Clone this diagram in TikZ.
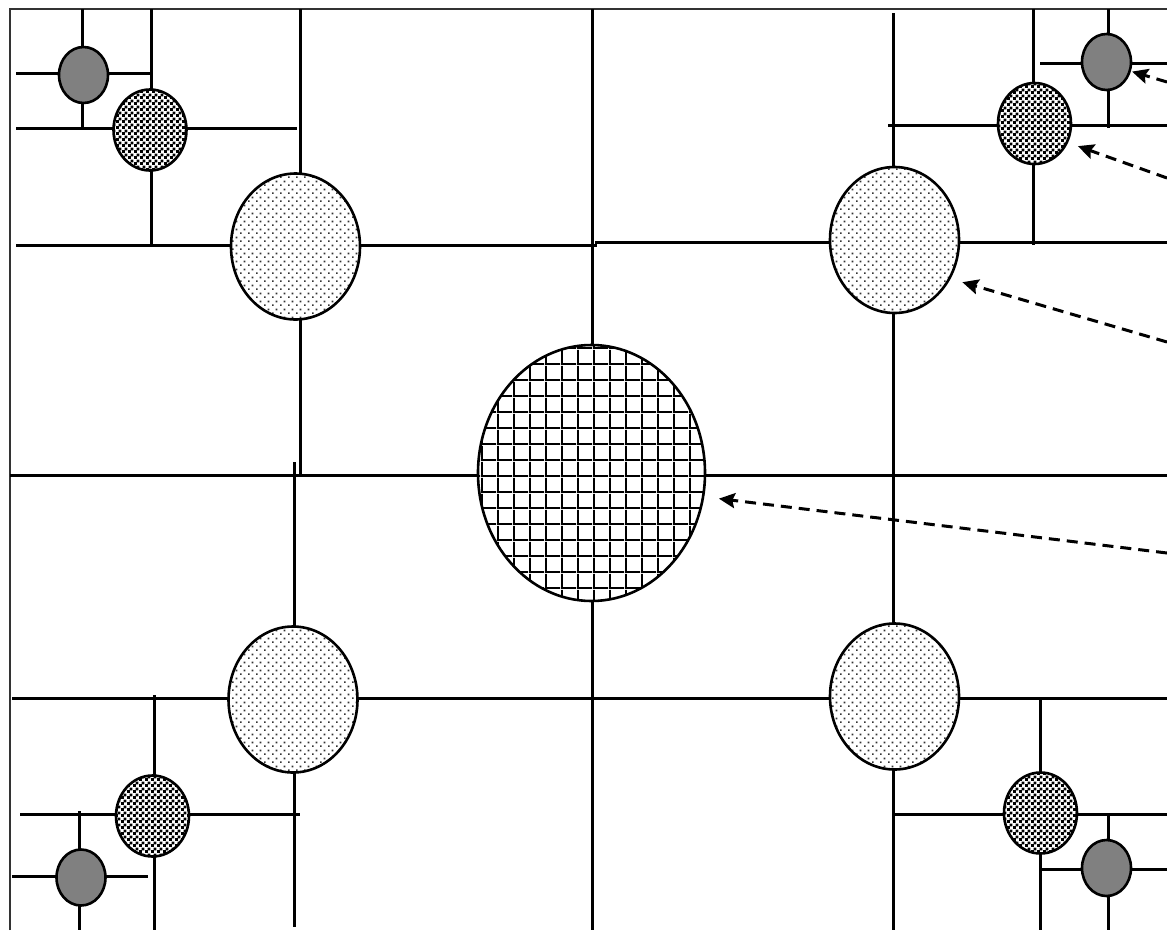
\documentclass[tikz,border=0pt]{standalone}
\usetikzlibrary{shapes.geometric,patterns,arrows.meta}

\pgfdeclarepatternformonly{fdots}{\pgfpointorigin}{\pgfqpoint{8pt}{8pt}}{\pgfqpoint{8pt}{8pt}}{%
  \pgfpathrectangle{\pgfqpoint{0pt}{0pt}}{\pgfqpoint{1.9pt}{1.9pt}}%
  \pgfpathrectangle{\pgfqpoint{4pt}{4pt}}{\pgfqpoint{1.9pt}{1.9pt}}%
  \pgfusepath{fill}}
\pgfdeclarepatternformonly{fchecker}{\pgfpointorigin}{\pgfqpoint{5.5pt}{5.5pt}}{\pgfqpoint{5.5pt}{5.5pt}}{%
  \pgfpathrectangle{\pgfqpoint{0pt}{0pt}}{\pgfqpoint{3pt}{3pt}}%
  \pgfpathrectangle{\pgfqpoint{2.75pt}{2.75pt}}{\pgfqpoint{3pt}{3pt}}%
  \pgfusepath{fill}}
\pgfdeclarepatternformonly{fgrid}{\pgfpointorigin}{\pgfqpoint{15.5pt}{15.5pt}}{\pgfqpoint{15.5pt}{15.5pt}}{%
  \pgfpathrectangle{\pgfqpoint{0pt}{0pt}}{\pgfqpoint{15.5pt}{1.9pt}}%
  \pgfpathrectangle{\pgfqpoint{0pt}{0pt}}{\pgfqpoint{1.9pt}{15.5pt}}%
  \pgfusepath{fill}}

\tikzset{
  wall/.style={line width=3pt, black},
  frame/.style={line width=2.4pt, black!80},
  ell/.style={ellipse, draw=black, line width=2.6pt, inner sep=0pt, outer sep=0pt},
  big/.style={ell, minimum width=129pt, minimum height=146pt, preaction={fill=white}, pattern=fdots, pattern color=black!80},
  mid/.style={ell, minimum width=73pt, minimum height=81pt, preaction={fill=white}, pattern=fchecker, pattern color=black},
  small/.style={ell, minimum width=49pt, minimum height=56pt, fill=black!50},
  hub/.style={ell, minimum width=227pt, minimum height=256pt, preaction={fill=white}, pattern=fgrid, pattern color=black},
  darrow/.style={line width=3pt, dash pattern=on 11pt off 7pt, -{Stealth[length=16pt,width=15pt,inset=2.5pt]}}
}

\begin{document}
\begin{tikzpicture}[x=1pt,y=-1pt]
\useasboundingbox (0,0) rectangle (1167,930);

% frame
\draw[frame] (10,930) -- (10,9) -- (1167,9);

% main lines
\draw[wall] (592,9) -- (592,930);
\draw[wall] (10,475) -- (1167,475);
\draw[wall] (16,245) -- (597,245);
\draw[wall] (595,242) -- (1167,242);
\draw[wall] (12,698) -- (1167,698);
\draw[wall] (300,9) -- (300,475);
\draw[wall] (893,13) -- (893,930);
\draw[wall] (294,462) -- (294,927);

% top-left corner
\draw[wall] (151,9) -- (151,245);
\draw[wall] (16,128) -- (297,128);
\draw[wall] (82,9) -- (82,128);
\draw[wall] (16,73) -- (150,73);

% top-right corner
\draw[wall] (1033,9) -- (1033,245);
\draw[wall] (888,125) -- (1167,125);
\draw[wall] (1108,9) -- (1108,128);
\draw[wall] (1040,63) -- (1167,63);

% bottom-left corner
\draw[wall] (154,695) -- (154,930);
\draw[wall] (20,814) -- (300,814);
\draw[wall] (79,811) -- (79,930);
\draw[wall] (12,876) -- (148,876);

% bottom-right corner
\draw[wall] (1040,698) -- (1040,930);
\draw[wall] (893,814) -- (1167,814);
\draw[wall] (1108,814) -- (1108,930);
\draw[wall] (1040,869) -- (1167,869);

% ellipses
\node[hub] (C) at (591.5,473) {};
\node[big] (TL) at (295.5,246.5) {};
\node[big] (TR) at (894.5,240) {};
\node[big] (BL) at (293,699.5) {};
\node[big] (BR) at (894.5,696.5) {};
\node[mid] (mTL) at (150,130) {};
\node[mid] (mTR) at (1034.5,123.5) {};
\node[mid] (mBL) at (152.5,816) {};
\node[mid] (mBR) at (1040.5,813) {};
\node[small] (sTL) at (83.5,75) {};
\node[small] (sTR) at (1106.5,62) {};
\node[small] (sBL) at (81,877.5) {};
\node[small] (sBR) at (1106.5,868) {};

% arrows
\coordinate (a1) at (1167,82);
\coordinate (a2) at (1167,178);
\coordinate (a3) at (1167,342);
\coordinate (a4) at (1167,553);
\draw[darrow, shorten >=2.4pt] (a1) -- (sTR.-21.4);
\draw[darrow, shorten >=11.7pt] (a2) -- (mTR.-30);
\draw[darrow, shorten >=13.6pt] (a3) -- (TR.-35.7);
\draw[darrow, shorten >=16pt] (a4) -- (C.-12.4);
\end{tikzpicture}
\end{document}
